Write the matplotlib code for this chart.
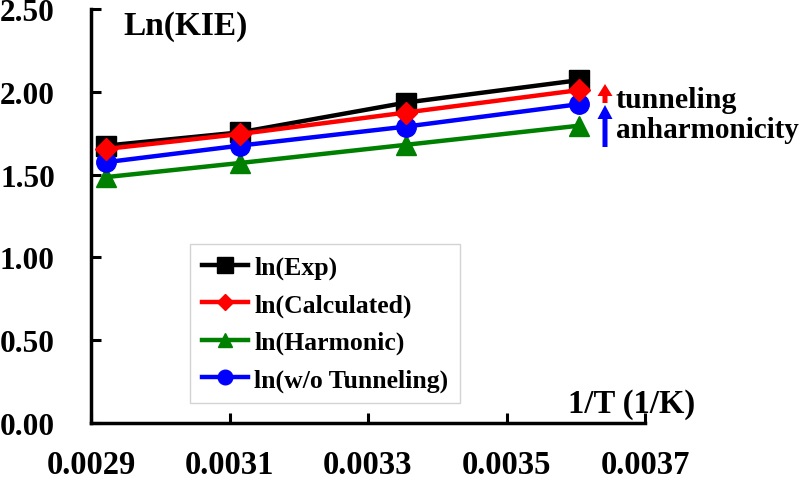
import matplotlib
matplotlib.use("Agg")
import matplotlib.pyplot as plt
from matplotlib.patches import FancyArrow

inv_T = [0.002922, 0.003115, 0.003355, 0.003604]
ln_exp = [1.675, 1.755, 1.935, 2.07]
ln_calc = [1.655, 1.745, 1.875, 2.01]
ln_harm = [1.485, 1.57, 1.68, 1.795]
ln_wot = [1.575, 1.675, 1.79, 1.925]

x_ticks = [0.0029, 0.0031, 0.0033, 0.0035, 0.0037]
x_tick_labels = ["0.0029", "0.0031", "0.0033", "0.0035", "0.0037"]
y_ticks = [0.0, 0.5, 1.0, 1.5, 2.0, 2.5]
y_tick_labels = ["0.00", "0.50", "1.00", "1.50", "2.00", "2.50"]

plt.rcParams['font.family'] = ['Liberation Serif', 'DejaVu Serif']
plt.rcParams['font.weight'] = 'bold'

fig = plt.figure(figsize=(8, 4.89), dpi=100)
ax = fig.add_axes([91/800, 1-424/489, (645-91)/800, (424-10)/489])

ax.plot(inv_T, ln_exp, color='black', lw=3.2, marker='s', ms=15, label='ln(Exp)', clip_on=False, zorder=3)
ax.plot(inv_T, ln_calc, color='#FF0000', lw=3.2, marker='D', ms=11.5, label='ln(Calculated)', clip_on=False, zorder=4)
ax.plot(inv_T, ln_harm, color='#008000', lw=3.2, marker='^', ms=14, label='ln(Harmonic)', clip_on=False, zorder=3)
ax.plot(inv_T, ln_wot, color='#0000FF', lw=3.2, marker='o', ms=14, label='ln(w/o Tunneling)', clip_on=False, zorder=3)

ax.set_xlim(0.0029, 0.0037)
ax.set_ylim(0, 2.5)
ax.set_xticks(x_ticks)
ax.set_xticklabels(x_tick_labels, fontsize=23.5, fontweight='bold')
ax.set_yticks(y_ticks)
ax.set_yticklabels(y_tick_labels, fontsize=22.5, fontweight='bold')
ax.tick_params(axis='x', direction='in', length=7, width=2.2, pad=19)
ax.tick_params(axis='y', direction='in', length=7, width=2.2, pad=26)
for s in ['top', 'right']:
    ax.spines[s].set_visible(False)
for s in ['left', 'bottom']:
    ax.spines[s].set_linewidth(2.5)

fig.text(123/800, 1-27/489, 'Ln(KIE)', fontsize=24, fontweight='bold', va='center', ha='left')
fig.text(568/800, 1-405/489, '1/T (1/K)', fontsize=23.5, fontweight='bold', va='center', ha='left')
fig.text(616/800, 1-100/489, 'tunneling', fontsize=21.5, fontweight='bold', va='center', ha='left')
fig.text(616/800, 1-130/489, 'anharmonicity', fontsize=21, fontweight='bold', va='center', ha='left')

# arrows (in figure pixel coordinates)
ax_arr = fig.add_axes([0, 0, 1, 1], facecolor='none')
ax_arr.set_xlim(0, 800)
ax_arr.set_ylim(489, 0)
ax_arr.axis('off')
ax_arr.add_patch(FancyArrow(605, 104, 0, -19, width=5, head_width=15, head_length=12,
                            length_includes_head=True, color='#FF0000', lw=0))
ax_arr.add_patch(FancyArrow(605, 148, 0, -42, width=5, head_width=15, head_length=14,
                            length_includes_head=True, color='#0000FF', lw=0))

leg = ax.legend(loc='upper left', bbox_to_anchor=((190-91)/554, (424-245)/414),
                prop={'weight': 'bold', 'size': 18.5}, frameon=True, fancybox=False,
                edgecolor='#C8C8C8', handlelength=1.8, markerscale=0.75, labelspacing=0.55,
                borderpad=0.45, handletextpad=0.25, borderaxespad=0)
leg.get_frame().set_linewidth(1.0)

fig.savefig('out.png', dpi=100)
